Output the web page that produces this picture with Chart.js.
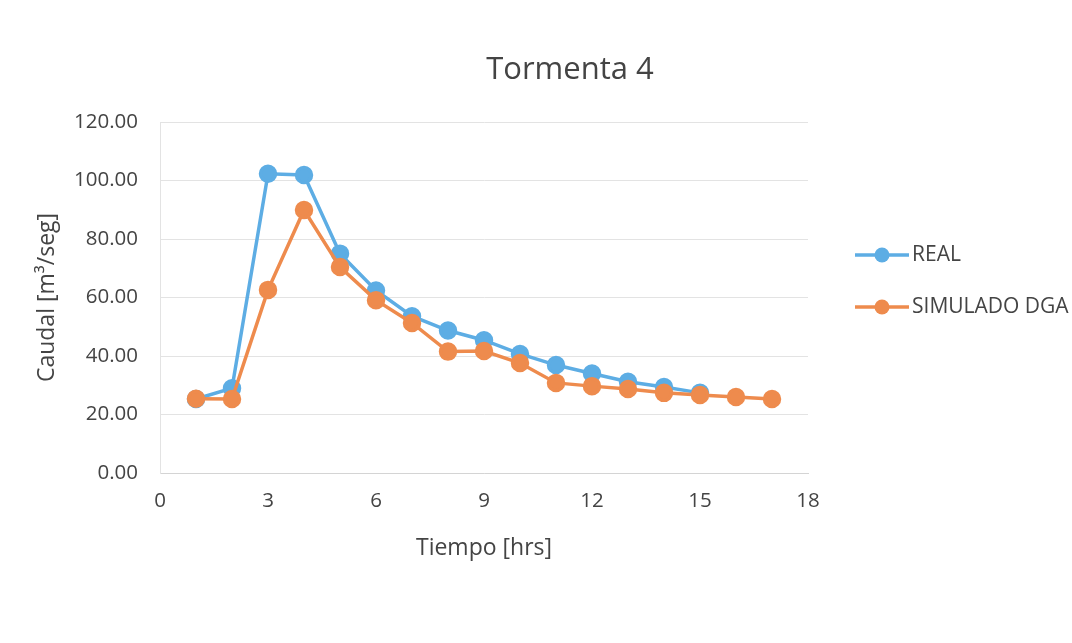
<!DOCTYPE html>
<html>
<head>
<meta charset="utf-8">
<title>Tormenta 4</title>
<script src="https://cdn.jsdelivr.net/npm/chart.js@4/dist/chart.umd.min.js"></script>
<style>
  html, body { margin: 0; padding: 0; background: #ffffff; }
  #wrap { width: 1072px; height: 643px; position: relative; }
</style>
</head>
<body>
<div id="wrap"><canvas id="chart" width="1072" height="643"></canvas></div>
<script>
// Hydrograph data: discharge per hour for storm 4
const hoursReal = [1, 2, 3, 4, 5, 6, 7, 8, 9, 10, 11, 12, 13, 14, 15];
const caudalReal = [25.3, 29.0, 102.3, 101.9, 75.0, 62.4, 53.6, 48.7, 45.4, 40.7, 36.9, 34.0, 31.2, 29.4, 27.4];
const hoursSim = [1, 2, 3, 4, 5, 6, 7, 8, 9, 10, 11, 12, 13, 14, 15, 16, 17];
const caudalSim = [25.4, 25.3, 62.6, 89.9, 70.4, 59.1, 51.3, 41.5, 41.7, 37.6, 30.8, 29.7, 28.7, 27.4, 26.7, 26.0, 25.3];
const xTicks = [0, 3, 6, 9, 12, 15, 18];
const yTicks = [0, 20, 40, 60, 80, 100, 120];

const FONT = "'Open Sans', 'Liberation Sans', sans-serif";
const TEXT = '#444444';
const BLUE = '#5DADE4';
const ORANGE = '#EE8B4D';

function toPoints(xs, ys) {
  return xs.map((x, i) => ({ x: x, y: ys[i] }));
}

// Chart title drawn above the plot
const titlePlugin = {
  id: 'stormTitle',
  afterDraw(chart) {
    const ctx = chart.ctx;
    ctx.save();
    ctx.font = '31px ' + FONT;
    ctx.fillStyle = TEXT;
    ctx.textAlign = 'center';
    ctx.textBaseline = 'middle';
    ctx.fillText('Tormenta 4', 570, 70);
    ctx.restore();
  }
};

// Legend on the right: line with a marker, then the series name
const sideLegend = {
  id: 'sideLegend',
  afterDraw(chart) {
    const ctx = chart.ctx;
    const order = [1, 0];
    const rows = [255, 307];
    const x0 = 855;
    order.forEach((di, r) => {
      const ds = chart.data.datasets[di];
      const y = rows[r];
      ctx.save();
      ctx.strokeStyle = ds.borderColor;
      ctx.lineWidth = 3.5;
      ctx.beginPath();
      ctx.moveTo(x0, y);
      ctx.lineTo(x0 + 54, y);
      ctx.stroke();
      ctx.fillStyle = ds.backgroundColor;
      ctx.beginPath();
      ctx.arc(x0 + 27, y, 7.5, 0, Math.PI * 2);
      ctx.fill();
      ctx.font = '21px ' + FONT;
      ctx.fillStyle = TEXT;
      ctx.textAlign = 'left';
      ctx.textBaseline = 'middle';
      ctx.fillText(ds.label, x0 + 57, y);
      ctx.restore();
    });
  }
};

new Chart(document.getElementById('chart'), {
  type: 'line',
  data: {
    datasets: [
      {
        label: 'SIMULADO DGA',
        data: toPoints(hoursSim, caudalSim),
        borderColor: ORANGE,
        backgroundColor: ORANGE,
        pointBackgroundColor: ORANGE,
        pointBorderColor: ORANGE,
        borderWidth: 3.5,
        pointRadius: 7.5,
        tension: 0
      },
      {
        label: 'REAL',
        data: toPoints(hoursReal, caudalReal),
        borderColor: BLUE,
        backgroundColor: BLUE,
        pointBackgroundColor: BLUE,
        pointBorderColor: BLUE,
        borderWidth: 3.5,
        pointRadius: 7.5,
        tension: 0
      }
    ]
  },
  options: {
    responsive: false,
    animation: false,
    layout: { padding: { top: 122, right: 264, bottom: 70, left: 0 } },
    plugins: {
      legend: { display: false },
      title: { display: false },
      tooltip: { enabled: false }
    },
    scales: {
      x: {
        type: 'linear',
        min: 0,
        max: 18,
        afterBuildTicks(scale) { scale.ticks = xTicks.map(v => ({ value: v })); },
        afterFit(scale) { scale.height = 100; },
        grid: { display: false, drawTicks: false },
        border: { display: true, color: '#D4D4D4', width: 1 },
        ticks: { color: TEXT, font: { family: FONT, size: 20.5 }, padding: 16 },
        title: {
          display: true,
          text: 'Tiempo [hrs]',
          color: TEXT,
          font: { family: FONT, size: 23 },
          padding: { top: 0, bottom: 11 }
        }
      },
      y: {
        min: 0,
        max: 120,
        afterBuildTicks(scale) { scale.ticks = yTicks.map(v => ({ value: v })); },
        afterFit(scale) { scale.width = 160; },
        grid: { color: '#E3E3E3', lineWidth: 1, drawTicks: false },
        border: { display: true, color: '#E3E3E3', width: 1 },
        ticks: {
          color: TEXT,
          font: { family: FONT, size: 20.5 },
          padding: 22,
          callback: v => v.toFixed(2)
        },
        title: {
          display: true,
          text: 'Caudal [m³/seg]',
          color: TEXT,
          font: { family: FONT, size: 23 },
          padding: { top: 34, bottom: 0 }
        }
      }
    }
  },
  plugins: [titlePlugin, sideLegend]
});
</script>
</body>
</html>
